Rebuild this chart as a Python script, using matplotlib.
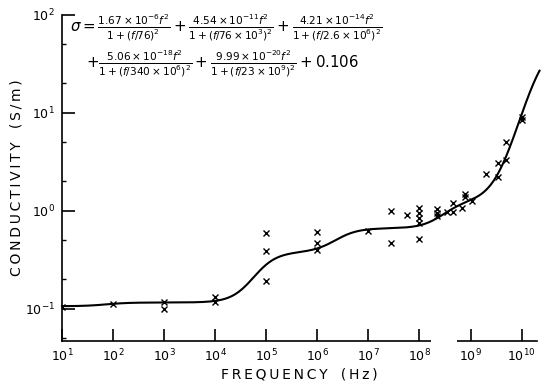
import numpy as np
import matplotlib
matplotlib.use("Agg")
import matplotlib.pyplot as plt

# measured points (Hz, S/m)
meas_freq = [10, 1e2, 1e3, 1e3, 1e4, 1e4,
             1e5, 1e5, 1e5, 1e6, 1e6, 1e6,
             1e7, 2.8e7, 2.8e7, 5.6e7,
             1e8, 1e8, 1e8, 1e8, 1e8,
             2.2e8, 2.2e8, 2.2e8, 3.5e8, 4.5e8, 4.5e8, 6.9e8,
             7.9e8, 7.9e8, 1.05e9, 2e9, 3.4e9, 3.4e9, 4.9e9, 5e9,
             1e10, 1e10]
meas_cond = [0.105, 0.112, 0.118, 0.099, 0.118, 0.132,
             0.60, 0.39, 0.19, 0.61, 0.47, 0.40,
             0.62, 1.0, 0.47, 0.91,
             1.06, 0.95, 0.85, 0.75, 0.52,
             1.05, 0.95, 0.88, 0.97, 1.21, 0.97, 1.08,
             1.5, 1.38, 1.27, 2.4, 3.1, 2.2, 3.3, 5.1,
             8.5, 9.0]

# model coefficients as printed on the chart
coef = [1.67e-6, 4.54e-11, 4.21e-14, 5.06e-18, 9.99e-20]
f_relax = [76, 76e3, 2.6e6, 340e6, 23e9]
sigma_0 = 0.106

xtick_vals = [1e1, 1e2, 1e3, 1e4, 1e5, 1e6, 1e7, 1e8, 1e9, 1e10]
xtick_labels = [r"$10^{%d}$" % e for e in range(1, 11)]
ytick_vals = [1e-1, 1e0, 1e1, 1e2]
ytick_labels = [r"$10^{-1}$", r"$10^{0}$", r"$10^{1}$", r"$10^{2}$"]

plt.rcParams['mathtext.fontset'] = 'dejavusans'

fig = plt.figure(figsize=(5.5, 3.86), dpi=100)
ax = fig.add_axes([0.1127, 0.1166, 0.8636, 0.8446])

# model curve
f = np.logspace(1, 10.35, 600)
sigma = np.full_like(f, sigma_0)
for a, fr in zip(coef, f_relax):
    sigma += a * f**2 / (1 + (f / fr)**2)
ax.plot(f, sigma, color='black', linewidth=1.5, clip_on=False, zorder=3)

ax.plot(meas_freq, meas_cond, linestyle='none', marker='x', color='black',
        markersize=4, markeredgewidth=1.0, zorder=4)

ax.set_xscale('log')
ax.set_yscale('log')
ax.set_xlim(10, 10**10.3)
ax.set_ylim(10**-1.33, 1e2)

ax.spines['top'].set_visible(False)
ax.spines['right'].set_visible(False)
ax.spines['left'].set_linewidth(1.2)
ax.spines['bottom'].set_linewidth(1.2)

ax.set_xticks(xtick_vals)
ax.set_xticklabels(xtick_labels, fontsize=9)
ax.set_yticks(ytick_vals)
ax.set_yticklabels(ytick_labels, fontsize=9)
ax.xaxis.set_minor_locator(matplotlib.ticker.NullLocator())
ax.yaxis.set_minor_locator(matplotlib.ticker.LogLocator(base=10, subs=[2, 5]))
ax.yaxis.set_minor_formatter(matplotlib.ticker.NullFormatter())
ax.tick_params(axis='both', which='major', direction='in', length=9, width=1.2, pad=5)
ax.tick_params(axis='y', which='minor', direction='in', length=3, width=1)

# break in the frequency axis
ax.plot([10**8.22, 10**8.73], [10**-1.33, 10**-1.33], color='white',
        linewidth=4, clip_on=False, zorder=5, solid_capstyle='butt')

sp = '\u2009'
ax.set_xlabel(sp.join("FREQUENCY") + "   " + sp.join("(Hz)"), fontsize=10, labelpad=2)
ax.set_ylabel(sp.join("CONDUCTIVITY") + "   " + sp.join("(S/m)"), fontsize=10, labelpad=1)

line1 = (r"$\sigma = \frac{1.67\times10^{-6}f^2}{1+(f/76)^2}"
         r" + \frac{4.54\times10^{-11}f^2}{1+(f/76\times10^3)^2}"
         r" + \frac{4.21\times10^{-14}f^2}{1+(f/2.6\times10^6)^2}$")
line2 = (r"$+ \frac{5.06\times10^{-18}f^2}{1+(f/340\times10^6)^2}"
         r" + \frac{9.99\times10^{-20}f^2}{1+(f/23\times10^9)^2} + 0.106$")
fig.text(70 / 550, 1 - 28 / 386, line1, fontsize=10.8, va='center', ha='left')
fig.text(86 / 550, 1 - 64 / 386, line2, fontsize=10.8, va='center', ha='left')

fig.savefig("out.png", dpi=100)
